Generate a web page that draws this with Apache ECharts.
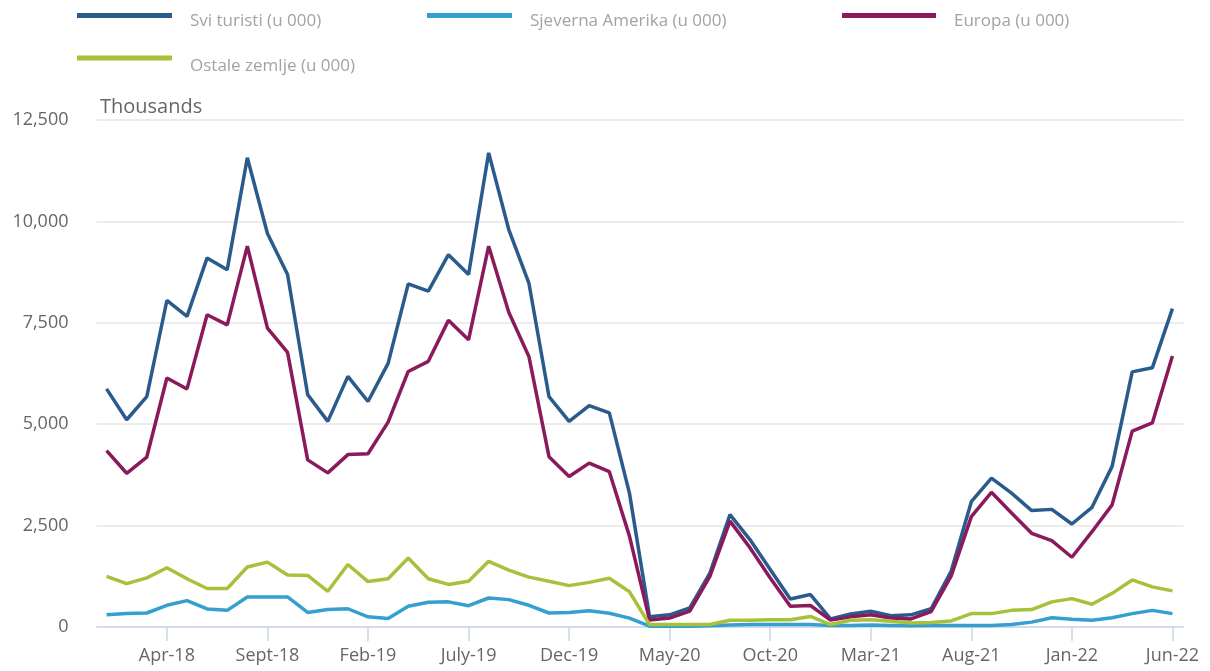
<!DOCTYPE html>
<html>
<head>
<meta charset="utf-8">
<title>Turisti</title>
<script src="https://cdn.jsdelivr.net/npm/echarts@6/dist/echarts.min.js"></script>
<style>
  html, body { margin: 0; padding: 0; background: #fff; }
  #chart { width: 1210px; height: 671px; }
</style>
</head>
<body>
<div id="chart"></div>
<script>
// mjeseci od Jan-18 do Jun-22
const months = [
  'Jan-18', 'Feb-18', 'Mar-18', 'Apr-18', 'May-18', 'Jun-18', 'July-18', 'Aug-18', 'Sept-18', 'Oct-18', 'Nov-18', 'Dec-18',
  'Jan-19', 'Feb-19', 'Mar-19', 'Apr-19', 'May-19', 'Jun-19', 'July-19', 'Aug-19', 'Sept-19', 'Oct-19', 'Nov-19', 'Dec-19',
  'Jan-20', 'Feb-20', 'Mar-20', 'Apr-20', 'May-20', 'Jun-20', 'July-20', 'Aug-20', 'Sept-20', 'Oct-20', 'Nov-20', 'Dec-20',
  'Jan-21', 'Feb-21', 'Mar-21', 'Apr-21', 'May-21', 'Jun-21', 'July-21', 'Aug-21', 'Sept-21', 'Oct-21', 'Nov-21', 'Dec-21',
  'Jan-22', 'Feb-22', 'Mar-22', 'Apr-22', 'May-22', 'Jun-22'
];
const tickLabels = ['Apr-18', 'Sept-18', 'Feb-19', 'July-19', 'Dec-19', 'May-20', 'Oct-20', 'Mar-21', 'Aug-21', 'Jan-22', 'Jun-22'];
const yTicks = [0, 2500, 5000, 7500, 10000, 12500];

const sviTuristi = [
  5870, 5110, 5680, 8050, 7660, 9100, 8810, 11570, 9700, 8690, 5730, 5070,
  6180, 5560, 6500, 8460, 8280, 9180, 8690, 11690, 9800, 8480, 5680, 5070,
  5460, 5280, 3300, 250, 300, 470, 1330, 2770, 2150, 1420, 690, 800,
  200, 320, 390, 280, 300, 450, 1380, 3090, 3670, 3300, 2870, 2900,
  2540, 2950, 3960, 6290, 6390, 7850
];
const sjevernaAmerika = [
  300, 330, 345, 535, 650, 445, 410, 740, 740, 740, 360, 430,
  450, 250, 210, 510, 610, 620, 525, 715, 675, 535, 345, 360,
  400, 340, 220, 20, 20, 20, 30, 50, 60, 60, 60, 60,
  40, 40, 50, 40, 30, 40, 40, 40, 40, 60, 120, 230,
  190, 165, 230, 330, 410, 330
];
const europa = [
  4350, 3790, 4190, 6140, 5870, 7700, 7450, 9390, 7370, 6770, 4120, 3800,
  4250, 4270, 5050, 6300, 6550, 7560, 7080, 9390, 7760, 6670, 4200, 3710,
  4040, 3830, 2240, 170, 220, 390, 1250, 2610, 1950, 1210, 510, 530,
  170, 250, 300, 220, 200, 380, 1260, 2720, 3320, 2810, 2310, 2130,
  1720, 2350, 3010, 4830, 5030, 6680
];
const ostaleZemlje = [
  1250, 1070, 1210, 1460, 1190, 950, 950, 1480, 1600, 1280, 1270, 880,
  1540, 1120, 1190, 1700, 1190, 1050, 1130, 1620, 1400, 1230, 1130, 1020,
  1100, 1200, 870, 60, 60, 60, 60, 165, 165, 180, 180, 260,
  60, 165, 180, 140, 100, 110, 150, 330, 330, 410, 430, 620,
  700, 560, 830, 1160, 990, 890
];

const seriesDefs = [
  { name: 'Svi turisti (u 000)', data: sviTuristi, color: '#2a5b8c', legend: { left: 77, top: 1, w: 95, pad: 12 } },
  { name: 'Sjeverna Amerika (u 000)', data: sjevernaAmerika, color: '#35a0cf', legend: { left: 427, top: 1, w: 85, pad: 12 } },
  { name: 'Europa (u 000)', data: europa, color: '#8a1a5b', legend: { left: 842, top: 1, w: 94, pad: 12 } },
  { name: 'Ostale zemlje (u 000)', data: ostaleZemlje, color: '#a7c13b', legend: { left: 77, top: 41, w: 95, pad: 17 } }
];

const font = '"Open Sans", "Noto Sans", sans-serif';
const tickIdx = tickLabels.map(l => months.indexOf(l));

const chart = echarts.init(document.getElementById('chart'));
chart.setOption({
  animation: false,
  title: {
    text: 'Thousands',
    left: 95,
    top: 92,
    textStyle: { color: '#666', fontSize: 20, fontWeight: 'normal', fontFamily: font }
  },
  legend: seriesDefs.map(s => ({
    data: [s.name],
    left: s.legend.left,
    top: s.legend.top,
    padding: 0,
    itemWidth: s.legend.w,
    itemHeight: 5,
    icon: 'rect',
    selectedMode: false,
    formatter: '{t|{name}}',
    textStyle: {
      rich: {
        t: { color: '#a3a3a3', fontSize: 17, fontFamily: font, lineHeight: 18, padding: [s.legend.pad, 0, 0, 13] }
      }
    }
  })),
  grid: { left: 96.5, right: 26.5, top: 120, bottom: 44, containLabel: false },
  xAxis: {
    type: 'value',
    min: -0.5,
    max: 53.55,
    splitLine: { show: false },
    axisLine: { show: true, lineStyle: { color: '#ccd6eb', width: 1.5 } },
    axisTick: { show: true, length: 14, lineStyle: { color: '#ccd6eb', width: 1.5 }, customValues: tickIdx },
    axisLabel: {
      color: '#666', fontSize: 18, fontFamily: font, margin: 20,
      customValues: tickIdx,
      formatter: v => months[Math.round(v)]
    }
  },
  yAxis: {
    type: 'value',
    min: 0,
    max: 12500,
    interval: 2500,
    axisLine: { show: false },
    axisTick: { show: false },
    splitLine: { lineStyle: { color: '#e6e6e6', width: 1.5 } },
    axisLabel: {
      color: '#666', fontSize: 18, fontFamily: font, margin: 28,
      customValues: yTicks,
      formatter: v => v.toLocaleString('en-US')
    }
  },
  series: seriesDefs.map(s => ({
    name: s.name,
    type: 'line',
    data: s.data.map((v, i) => [i, v]),
    showSymbol: false,
    symbol: 'none',
    color: s.color,
    lineStyle: { width: 3.5, color: s.color },
    emphasis: { disabled: true }
  }))
});
</script>
</body>
</html>
